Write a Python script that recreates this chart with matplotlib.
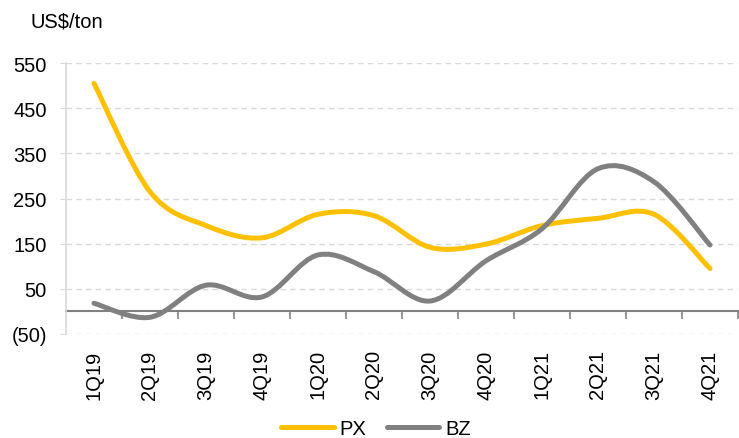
import matplotlib.pyplot as plt
from matplotlib.path import Path
from matplotlib.patches import PathPatch
from matplotlib.lines import Line2D

plt.rcParams['font.family'] = ['Liberation Sans', 'DejaVu Sans']

# data
quarters = ['1Q19', '2Q19', '3Q19', '4Q19', '1Q20', '2Q20',
            '3Q20', '4Q20', '1Q21', '2Q21', '3Q21', '4Q21']
px = [505, 265, 190, 163, 215, 212, 142, 149, 190, 206, 215, 95]
bz = [18, -13, 58, 32, 125, 88, 23, 112, 183, 316, 287, 147]
yticks = [-50, 50, 150, 250, 350, 450, 550]
ytick_labels = ['(50)', '50', '150', '250', '350', '450', '550']

YELLOW = '#FFC000'
GRAY = '#808080'


def smooth_path(ys):
    # Excel-style smoothed line: cubic bezier, Catmull-Rom control points
    pts = list(enumerate(ys))
    n = len(pts)
    verts = [pts[0]]
    codes = [Path.MOVETO]
    for i in range(n - 1):
        p0 = pts[max(i - 1, 0)]
        p1 = pts[i]
        p2 = pts[i + 1]
        p3 = pts[min(i + 2, n - 1)]
        c1 = (p1[0] + (p2[0] - p0[0]) / 6, p1[1] + (p2[1] - p0[1]) / 6)
        c2 = (p2[0] - (p3[0] - p1[0]) / 6, p2[1] - (p3[1] - p1[1]) / 6)
        verts += [c1, c2, p2]
        codes += [Path.CURVE4] * 3
    return Path(verts, codes)


fig = plt.figure(figsize=(7.39, 4.39), dpi=100)
ax = fig.add_axes([66 / 739, 104 / 439, 672 / 739, 271 / 439])

for ys, col, z in ((px, YELLOW, 3), (bz, GRAY, 4)):
    ax.add_patch(PathPatch(smooth_path(ys), facecolor='none', edgecolor=col,
                           lw=3.6, capstyle='round', zorder=z))

ax.set_xlim(-0.5, len(quarters) - 0.5)
ax.set_ylim(-50, 550)

ax.set_yticks(yticks)
ax.set_yticklabels(ytick_labels)
ax.yaxis.grid(True, color='#d9d9d9', linestyle=(0, (4, 3)), lw=1)
ax.tick_params(axis='y', length=4.3, color='#d9d9d9', pad=9.5, labelsize=14.5)

ax.set_xticks(range(len(quarters)))
ax.set_xticklabels(quarters, rotation=90)
ax.tick_params(axis='x', length=0, pad=11, labelsize=14.5)

for s in ('top', 'right', 'bottom'):
    ax.spines[s].set_visible(False)
ax.spines['left'].set_color('#d9d9d9')
ax.spines['left'].set_linewidth(1.2)

# zero line with category separators
sec = ax.secondary_xaxis(50 / 600)
sec.set_xticks([k + 0.5 for k in range(len(quarters))])
sec.set_xticklabels([])
sec.tick_params(length=6, color=GRAY, width=1.2)
sec.spines['bottom'].set_color(GRAY)
sec.spines['bottom'].set_linewidth(1.5)

fig.text(30 / 739, 1 - 22 / 439, 'US$/ton', fontsize=14.5, va='center')

handles = [Line2D([], [], color=YELLOW, lw=3.6, solid_capstyle='round'),
           Line2D([], [], color=GRAY, lw=3.6, solid_capstyle='round')]
fig.legend(handles, ['PX', 'BZ'], loc='center', bbox_to_anchor=(376 / 739, 1 - 430 / 439),
           ncol=2, frameon=False, fontsize=14.5, handlelength=2.6,
           handletextpad=0.3, columnspacing=1.0)

fig.savefig('out.png', dpi=100)
